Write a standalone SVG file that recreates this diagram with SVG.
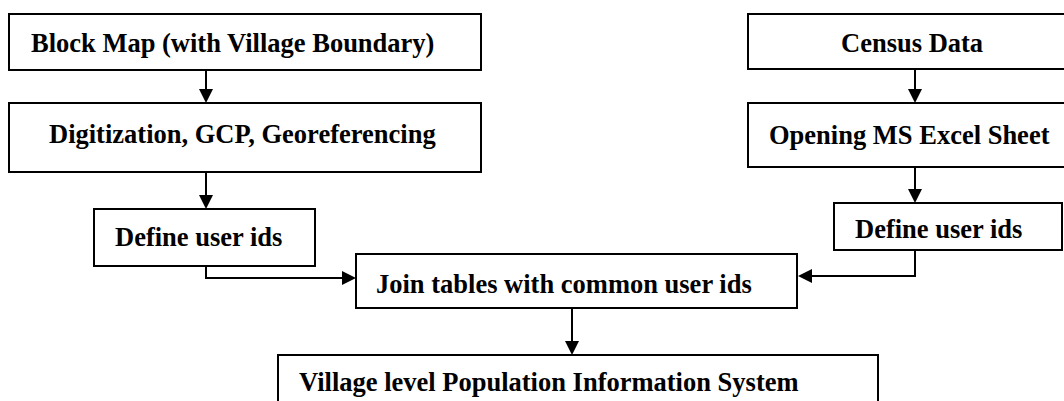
<svg xmlns="http://www.w3.org/2000/svg" width="1064" height="401" viewBox="0 0 1064 401">
<style>
.box{fill:#fff;stroke:#000;stroke-width:2}
.lbl{font-family:"Liberation Serif","Times New Roman",serif;font-weight:bold;font-size:26.5px;fill:#000}
.conn{fill:none;stroke:#000;stroke-width:2}
</style>
<defs>
<marker id="ah" markerUnits="userSpaceOnUse" markerWidth="14" markerHeight="14" refX="4" refY="7" orient="auto">
<path d="M0,0 L14,7 L0,14 z" fill="#000"/>
</marker>
</defs>
<rect width="1064" height="401" fill="#fff"/>
<g id="connectors">
<path class="conn" d="M206,70 V93" marker-end="url(#ah)"/>
<path class="conn" d="M206,172 V199" marker-end="url(#ah)"/>
<path class="conn" d="M206,266 V278 H346" marker-end="url(#ah)"/>
<path class="conn" d="M915,69 V93" marker-end="url(#ah)"/>
<path class="conn" d="M915,167 V193" marker-end="url(#ah)"/>
<path class="conn" d="M915,250 V276 H808" marker-end="url(#ah)"/>
<path class="conn" d="M572,308 V345" marker-end="url(#ah)"/>
</g>
<g id="block-map">
<rect class="box" x="9" y="14" width="472" height="56"/>
<text class="lbl" x="31" y="52">Block Map (with Village Boundary)</text>
</g>
<g id="digitization">
<rect class="box" x="9" y="103" width="472" height="69"/>
<text class="lbl" x="49" y="143">Digitization, GCP, Georeferencing</text>
</g>
<g id="define-left">
<rect class="box" x="94" y="209" width="221" height="57"/>
<text class="lbl" x="115" y="246">Define user ids</text>
</g>
<g id="census">
<rect class="box" x="748" y="14" width="330" height="55"/>
<text class="lbl" x="841" y="52">Census Data</text>
</g>
<g id="opening-excel">
<rect class="box" x="748" y="103" width="330" height="64"/>
<text class="lbl" x="769" y="144">Opening MS Excel Sheet</text>
</g>
<g id="define-right">
<rect class="box" x="834" y="203" width="228" height="47"/>
<text class="lbl" x="855" y="238">Define user ids</text>
</g>
<g id="join">
<rect class="box" x="356" y="254" width="441" height="54"/>
<text class="lbl" x="376" y="293">Join tables with common user ids</text>
</g>
<g id="village-system">
<rect class="box" x="278" y="355" width="600" height="60"/>
<text class="lbl" x="299" y="391">Village level Population Information System</text>
</g>
</svg>
